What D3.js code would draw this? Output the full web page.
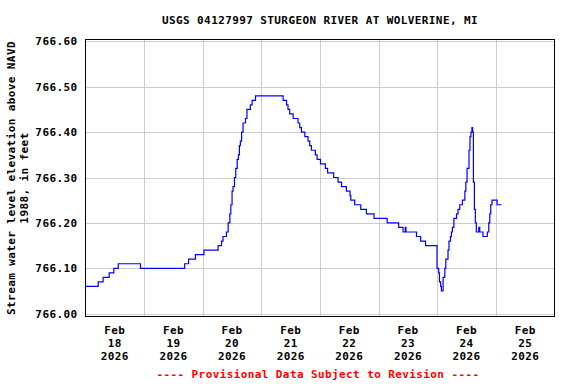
<!DOCTYPE html>
<html>
<head>
<meta charset="utf-8">
<script src="https://cdn.jsdelivr.net/npm/d3@7"></script>
<style>
  html, body { margin: 0; padding: 0; background: #fff; }
  svg { display: block; }
  text { font-family: "DejaVu Sans Mono", "Liberation Mono", monospace; font-weight: bold; font-size: 11px; letter-spacing: 0.4px; }
</style>
</head>
<body>
<script>
// ---- data ----
const title = "USGS 04127997 STURGEON RIVER AT WOLVERINE, MI";
const yTitle1 = "Stream water level elevation above NAVD";
const yTitle2 = "1988, in feet";
const footer = "---- Provisional Data Subject to Revision ----";
const dayLabels = ["18", "19", "20", "21", "22", "23", "24", "25"];
const monthLabel = "Feb";
const yearLabel = "2026";
const yTicks = [766.00, 766.10, 766.20, 766.30, 766.40, 766.50, 766.60];
// hours since Feb 18 2026 00:00
const hours = [0, 5.2, 7.2, 9.7, 11.6, 13.4, 22.5, 40.6, 42.2, 45.0, 48.5,
  54.3, 55.7, 56.3, 57.7, 58.4, 59.1, 59.5, 60.0, 60.4, 61.0, 61.5, 62.1, 62.6, 63.0, 63.4, 63.9, 64.5, 65.5, 66.1, 67.5, 68.2, 69.6,
  80.9, 82.3, 82.9, 83.6, 85.0, 87.0, 87.7, 88.4, 89.8, 91.1, 91.8, 92.5, 94.1, 94.8, 96.2, 98.2, 99.1,
  101.6, 103.4, 104.8, 106.8, 108.3, 108.6, 110.2, 112.7, 115.0, 118.1, 123.5, 128.2, 130.0, 130.9, 131.2, 135.5, 137.2, 139.2,
  143.9, 144.6, 144.9, 145.4, 145.7, 146.4, 147.1, 147.5, 148.4, 148.8, 149.4, 149.8, 150.2, 150.8, 151.9, 152.5, 153.2, 154.3,
  155.3, 155.7, 156.2, 157.0, 157.4, 157.8, 158.2, 158.5, 158.8, 159.2, 159.6, 160.0, 161.0, 161.4, 162.7, 164.5, 165.1, 165.5,
  165.9, 166.4, 168.5, 170.3];
const levels = [766.06, 766.07, 766.08, 766.09, 766.10, 766.11, 766.10, 766.11, 766.12, 766.13, 766.14,
  766.15, 766.16, 766.17, 766.18, 766.20, 766.22, 766.24, 766.27, 766.28, 766.30, 766.32, 766.34, 766.35, 766.37, 766.38, 766.40, 766.42, 766.43, 766.45, 766.46, 766.47, 766.48,
  766.47, 766.46, 766.45, 766.44, 766.43, 766.42, 766.41, 766.40, 766.39, 766.38, 766.37, 766.36, 766.35, 766.34, 766.33, 766.32, 766.31,
  766.30, 766.29, 766.28, 766.27, 766.26, 766.25, 766.24, 766.23, 766.22, 766.21, 766.20, 766.19, 766.18, 766.19, 766.18, 766.17, 766.16, 766.15,
  766.10, 766.09, 766.07, 766.06, 766.05, 766.08, 766.10, 766.12, 766.14, 766.16, 766.17, 766.18, 766.19, 766.21, 766.22, 766.23, 766.24, 766.25,
  766.27, 766.29, 766.32, 766.36, 766.39, 766.40, 766.41, 766.40, 766.29, 766.23, 766.20, 766.18, 766.19, 766.18, 766.17, 766.18, 766.20, 766.22,
  766.24, 766.25, 766.24, 766.24];

// ---- layout ----
const W = 576, H = 384;
const frame = { left: 85.5, right: 554.5, top: 39.5, bottom: 316.5 };

const svg = d3.select("body").append("svg").attr("width", W).attr("height", H);

const x = d3.scaleLinear().domain([0, 192]).range([frame.left, frame.right]);
const y = d3.scaleLinear().domain([766.00, 766.60]).range([313.7, 41.3]);

// grid
const grid = svg.append("g").attr("stroke", "#cccccc").attr("stroke-width", 1);
yTicks.forEach(v => {
  const yy = Math.round(y(v)) + 0.5;
  grid.append("line").attr("x1", frame.left).attr("x2", frame.right).attr("y1", yy).attr("y2", yy);
});
for (let d = 1; d < 8; d++) {
  const xx = Math.round(x(d * 24)) + 0.5;
  grid.append("line").attr("x1", xx).attr("x2", xx).attr("y1", frame.top).attr("y2", frame.bottom);
}

// data line
const data = hours.map((h, i) => ({ h, v: levels[i] }));
svg.append("path").datum(data)
  .attr("fill", "none").attr("stroke", "#0000ff").attr("stroke-width", 1.2)
  .attr("d", d3.line().x(d => x(d.h)).y(d => y(d.v)).curve(d3.curveStepAfter));

// frame
svg.append("rect").attr("x", frame.left).attr("y", frame.top)
  .attr("width", frame.right - frame.left).attr("height", frame.bottom - frame.top)
  .attr("fill", "none").attr("stroke", "#000").attr("stroke-width", 1);

// y axis labels
const yAxis = d3.axisLeft(y).tickValues(yTicks).tickFormat(d3.format(".2f")).tickSize(0).tickPadding(8);
const ya = svg.append("g").attr("transform", `translate(${frame.left},0)`).call(yAxis);
ya.select(".domain").remove();
ya.selectAll("text").attr("fill", "#000").style("font-family", null).style("font-size", null)
  .attr("font-family", null).attr("font-size", null);
ya.attr("font-family", null).attr("font-size", null);

// x axis labels
const xl = svg.append("g");
dayLabels.forEach((lab, i) => {
  const cx = x(i * 24 + 12);
  const t = xl.append("text").attr("text-anchor", "middle").attr("fill", "#000");
  t.append("tspan").attr("x", cx).attr("y", 334).text(monthLabel);
  t.append("tspan").attr("x", cx).attr("y", 347).text(lab);
  t.append("tspan").attr("x", cx).attr("y", 360).text(yearLabel);
});

// title
svg.append("text").attr("x", 320).attr("y", 24).attr("text-anchor", "middle").attr("fill", "#000").text(title);

// y title
const yt = svg.append("text").attr("transform", "translate(0,178) rotate(-90)").attr("text-anchor", "middle").attr("fill", "#000");
yt.append("tspan").attr("x", 0).attr("y", 15).text(yTitle1);
yt.append("tspan").attr("x", 0).attr("y", 28).text(yTitle2);

// footer
svg.append("text").attr("x", 318).attr("y", 378).attr("text-anchor", "middle").attr("fill", "#ff0000").text(footer);
</script>
</body>
</html>
